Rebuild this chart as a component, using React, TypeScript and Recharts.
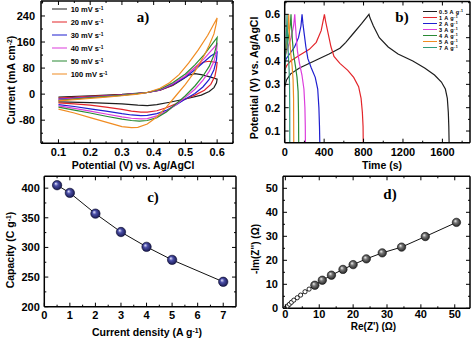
import React from "react";
import { LineChart, Line, XAxis, YAxis, ScatterChart, Scatter } from "recharts";

const SANS = '"Liberation Sans", Arial, sans-serif';
const SERIF = '"Liberation Serif", "DejaVu Serif", serif';

// a) cyclic voltammograms: [potential V, current mA cm-2]
const cvRates = ["10", "20", "30", "40", "50", "100"];
const cv10: [number, number][] = [
  [0.1, -9], [0.2, -5], [0.3, -1], [0.38, 5], [0.42, 12], [0.46, 27], [0.49, 45], [0.51, 58], [0.53, 63],
  [0.55, 60], [0.58, 52], [0.6, 46], [0.598, 35], [0.59, 20], [0.575, 8], [0.55, -3], [0.5, -15],
  [0.45, -25], [0.41, -32], [0.38, -35], [0.35, -34], [0.3, -30], [0.2, -26], [0.1, -24],
];
const cv20: [number, number][] = [
  [0.1, -12], [0.2, -7], [0.3, -2], [0.38, 5], [0.42, 12], [0.46, 28], [0.5, 55], [0.53, 82], [0.555, 98],
  [0.575, 101], [0.6, 97], [0.598, 80], [0.593, 55], [0.58, 30], [0.56, 12], [0.53, -3], [0.5, -15],
  [0.47, -30], [0.44, -42], [0.41, -51], [0.38, -55], [0.36, -55], [0.33, -52], [0.3, -47], [0.25, -40],
  [0.2, -34], [0.15, -30], [0.1, -27],
];
const cv30: [number, number][] = [
  [0.1, -15], [0.2, -9], [0.3, -3], [0.38, 5], [0.42, 13], [0.46, 30], [0.5, 52], [0.53, 75], [0.56, 100],
  [0.58, 117], [0.6, 129], [0.598, 105], [0.59, 75], [0.575, 45], [0.555, 22], [0.53, 2], [0.5, -15],
  [0.47, -33], [0.44, -50], [0.41, -60], [0.38, -65], [0.36, -66], [0.33, -64], [0.3, -60], [0.25, -52],
  [0.2, -45], [0.15, -38], [0.1, -32],
];
const cv40: [number, number][] = [
  [0.1, -17], [0.2, -10], [0.3, -3], [0.38, 5], [0.42, 14], [0.46, 32], [0.5, 56], [0.53, 82], [0.56, 110],
  [0.58, 132], [0.6, 154], [0.598, 130], [0.59, 100], [0.575, 70], [0.555, 42], [0.53, 15], [0.5, -10],
  [0.47, -33], [0.44, -53], [0.41, -67], [0.38, -75], [0.36, -76], [0.33, -74], [0.3, -70], [0.25, -61],
  [0.2, -52], [0.15, -44], [0.1, -36],
];
const cv50: [number, number][] = [
  [0.1, -19], [0.2, -11], [0.3, -4], [0.38, 5], [0.42, 15], [0.46, 35], [0.5, 62], [0.53, 90], [0.56, 122],
  [0.58, 148], [0.6, 174], [0.598, 150], [0.59, 120], [0.575, 85], [0.555, 55], [0.53, 25], [0.5, -5],
  [0.47, -30], [0.44, -55], [0.41, -72], [0.38, -81], [0.355, -83], [0.33, -81], [0.3, -77], [0.25, -68],
  [0.2, -58], [0.15, -49], [0.1, -40],
];
const cv100: [number, number][] = [
  [0.1, -21], [0.15, -17], [0.2, -13], [0.25, -9], [0.3, -5], [0.35, 0], [0.38, 5], [0.42, 18], [0.45, 35],
  [0.48, 60], [0.51, 95], [0.54, 135], [0.57, 180], [0.6, 234], [0.597, 215], [0.59, 185], [0.575, 150],
  [0.56, 120], [0.53, 70], [0.5, 30], [0.47, -5], [0.44, -40], [0.41, -70], [0.38, -92], [0.35, -102],
  [0.33, -103], [0.3, -100], [0.25, -86], [0.2, -72], [0.15, -58], [0.1, -46],
];
const cvSeries = [cv10, cv20, cv30, cv40, cv50, cv100];
const cvColors = ["#1e1e1e", "#e3262b", "#1f1fd0", "#dc3ddc", "#2a8a34", "#f08c22"];

// b) charge-discharge: [time s, potential V]
const gcdRates = ["0.5", "1", "2", "3", "4", "5", "7"];
const gcd05: [number, number][] = [
  [0, 0.29], [20, 0.32], [60, 0.345], [150, 0.37], [300, 0.4], [450, 0.43], [560, 0.455], [620, 0.48],
  [700, 0.52], [780, 0.56], [855, 0.6], [865, 0.585], [900, 0.55], [960, 0.5], [1050, 0.46], [1150, 0.43],
  [1300, 0.4], [1420, 0.37], [1520, 0.34], [1590, 0.31], [1630, 0.28], [1650, 0.24], [1660, 0.18],
  [1665, 0.12], [1668, 0.05],
];
const gcd1: [number, number][] = [
  [0, 0.36], [20, 0.38], [60, 0.4], [150, 0.425], [250, 0.45], [320, 0.48], [370, 0.53], [403, 0.6],
  [415, 0.57], [440, 0.52], [470, 0.46], [500, 0.42], [560, 0.39], [640, 0.36], [700, 0.33], [750, 0.29],
  [775, 0.24], [788, 0.18], [795, 0.12], [797, 0.05],
];
const gcd2: [number, number][] = [
  [0, 0.39], [15, 0.41], [50, 0.43], [100, 0.46], [140, 0.5], [165, 0.55], [176, 0.6], [185, 0.56],
  [200, 0.51], [215, 0.46], [235, 0.41], [270, 0.37], [310, 0.33], [335, 0.28], [347, 0.2], [353, 0.12],
  [356, 0.05],
];
const gcd3: [number, number][] = [
  [0, 0.41], [10, 0.43], [35, 0.46], [65, 0.5], [90, 0.55], [102, 0.6], [108, 0.56], [118, 0.5],
  [130, 0.44], [150, 0.39], [175, 0.34], [195, 0.28], [205, 0.2], [209, 0.12], [210, 0.05],
];
const gcd4: [number, number][] = [
  [0, 0.4], [8, 0.43], [25, 0.47], [45, 0.52], [58, 0.56], [64, 0.6], [68, 0.56], [78, 0.49], [90, 0.43],
  [108, 0.38], [125, 0.33], [136, 0.27], [140, 0.18], [142, 0.05],
];
const gcd5: [number, number][] = [
  [0, 0.38], [6, 0.42], [18, 0.47], [30, 0.52], [38, 0.56], [41, 0.6], [44, 0.56], [52, 0.49], [62, 0.43],
  [75, 0.38], [85, 0.32], [90, 0.24], [92, 0.05],
];
const gcd7: [number, number][] = [
  [0, 0.3], [3, 0.36], [8, 0.42], [14, 0.48], [20, 0.54], [24, 0.6], [26, 0.55], [31, 0.48], [38, 0.42],
  [45, 0.36], [49, 0.3], [51, 0.2], [51.5, 0.05],
];
const gcdSeries = [gcd05, gcd1, gcd2, gcd3, gcd4, gcd5, gcd7];
const gcdColors = ["#1e1e1e", "#e3262b", "#1f1fd0", "#dc3ddc", "#2a8a34", "#f08c22", "#2f9a78"];

// c) capacity vs current density
const capDensity = [0.5, 1, 2, 3, 4, 5, 7];
const capValue = [405, 392, 357, 326, 301, 279, 242];

// d) Nyquist plot
const zReSmall = [0.3, 0.7, 1.2, 1.8, 2.5, 3.5, 4.5, 5.8, 7];
const zImSmall = [0.3, 1.0, 1.7, 2.5, 3.4, 4.4, 5.5, 6.9, 8];
const zReLarge = [8.7, 10.9, 13.6, 17, 20, 23.9, 28.6, 34.3, 41.3, 50.5];
const zImLarge = [9.6, 11.7, 13.8, 16.2, 18.2, 20.6, 23.1, 25.5, 29.9, 35.8];

// tick values
const aXMajor = [0.1, 0.2, 0.3, 0.4, 0.5, 0.6];
const aXMinor = [0.05, 0.15, 0.25, 0.35, 0.45, 0.55, 0.65];
const aYMajor = [-80, 0, 80, 160, 240];
const aYMinor = [-120, -40, 40, 120, 200, 280];
const bXMajor = [0, 400, 800, 1200, 1600];
const bXMinor = [200, 600, 1000, 1400, 1800];
const bYMajor = [0.1, 0.2, 0.3, 0.4, 0.5, 0.6];
const bYMinor = [0.15, 0.25, 0.35, 0.45, 0.55, 0.65];
const cXMajor = [0, 1, 2, 3, 4, 5, 6, 7];
const cXMinor = [0.5, 1.5, 2.5, 3.5, 4.5, 5.5, 6.5];
const cYMajor = [200, 250, 300, 350, 400];
const cYMinor = [225, 275, 325, 375];
const dXMajor = [0, 10, 20, 30, 40, 50];
const dXMinor = [5, 15, 25, 35, 45];
const dYMajor = [0, 10, 20, 30, 40, 50];
const dYMinor = [5, 15, 25, 35, 45];

const toXY = (pts: [number, number][]) => pts.map(([x, y]) => ({ x, y }));
const zip = (xs: number[], ys: number[]) => xs.map((x, i) => ({ x, y: ys[i] }));

type Side = "bottom" | "left" | "top" | "right";

function frameTick(side: Side, majors: number[], fmt?: (v: number) => string, gap = 9) {
  return (props: any) => {
    const { x, y, payload } = props;
    const v = payload.value;
    const major = majors.some((m) => Math.abs(m - v) < 1e-6);
    const len = major ? 4 : 2;
    let l = { x1: x, y1: y, x2: x, y2: y - len };
    if (side === "top") l = { x1: x, y1: y, x2: x, y2: y + len };
    if (side === "left") l = { x1: x, y1: y, x2: x + len, y2: y };
    if (side === "right") l = { x1: x, y1: y, x2: x - len, y2: y };
    return (
      <g>
        <line {...l} stroke="#000" strokeWidth={1} />
        {major && fmt && side === "bottom" && (
          <text x={x} y={y + gap} textAnchor="middle" dominantBaseline="central"
            fontFamily={SANS} fontWeight="bold" fontSize={11} fill="#000">{fmt(v)}</text>
        )}
        {major && fmt && side === "left" && (
          <text x={x - gap} y={y} textAnchor="end" dominantBaseline="central"
            fontFamily={SANS} fontWeight="bold" fontSize={11} fill="#000">{fmt(v)}</text>
        )}
      </g>
    );
  };
}

const axisLine = { stroke: "#000", strokeWidth: 1.5 };

// the axes need a size above 0 to be drawn, so each one takes 1px out of the margin
function FrameAxes({ xd, yd, xMaj, xMin, yMaj, yMin, fx, fy, xGap = 9, yGap = 5 }: any) {
  const xt = [...xMaj, ...xMin].sort((a, b) => a - b);
  const yt = [...yMaj, ...yMin].sort((a, b) => a - b);
  const common = { tickSize: 0, tickMargin: 0, interval: 0 as const, tickLine: false, axisLine, allowDataOverflow: true };
  return [
    <XAxis key="xb" type="number" dataKey="x" domain={xd} ticks={xt} height={1}
      tick={frameTick("bottom", xMaj, fx, xGap)} {...common} />,
    <XAxis key="xt" xAxisId="top" orientation="top" type="number" dataKey="x" domain={xd} ticks={xt} height={1}
      tick={frameTick("top", xMaj)} {...common} />,
    <YAxis key="yl" type="number" dataKey="y" domain={yd} ticks={yt} width={1}
      tick={frameTick("left", yMaj, fy, yGap)} {...common} />,
    <YAxis key="yr" yAxisId="right" orientation="right" type="number" dataKey="y" domain={yd} ticks={yt} width={1}
      tick={frameTick("right", yMaj)} {...common} />,
  ];
}

const Sup = ({ children }: { children: React.ReactNode }) => (
  <span style={{ fontSize: "0.65em", position: "relative", top: "-0.45em" }}>{children}</span>
);

function Title({ x, y, rotate, size = 10.5, children }: any) {
  return (
    <div style={{
      position: "absolute", left: x, top: y, whiteSpace: "nowrap", fontFamily: SANS, fontWeight: "bold",
      fontSize: size, lineHeight: 1, color: "#000",
      transform: `translate(-50%, -50%)${rotate ? " rotate(-90deg)" : ""}`,
    }}>{children}</div>
  );
}

function PanelTag({ x, y, children }: any) {
  return (
    <div style={{
      position: "absolute", left: x, top: y, transform: "translate(-50%, -50%)", fontFamily: SERIF,
      fontWeight: "bold", fontSize: 15, lineHeight: 1, color: "#000",
    }}>{children}</div>
  );
}

function Sphere({ cx, cy, r, grad, stroke }: any) {
  if (cx == null || cy == null) return <g />;
  return <circle cx={cx} cy={cy} r={r} fill={`url(#${grad})`} stroke={stroke} strokeWidth={0.6} />;
}

export default function App() {
  const box = (left: number, top: number): React.CSSProperties => ({ position: "absolute", left, top });
  return (
    <div style={{ position: "absolute", left: 0, top: 0, width: 474, height: 338, background: "#fff", overflow: "hidden" }}>
      {/* a) CV */}
      <div style={box(0, 0)}>
        <LineChart width={237} height={169} margin={{ top: 0, left: 40, right: 3, bottom: 24.7 }}>
          {FrameAxes({ xd: [0.045, 0.65], yd: [-151, 286], xMaj: aXMajor, xMin: aXMinor, yMaj: aYMajor, yMin: aYMinor,
            fx: (v: number) => v.toFixed(1), fy: (v: number) => String(v), xGap: 8.8, yGap: 6 })}
          {cvSeries.map((s, i) => (
            <Line key={cvRates[i]} data={toXY(s)} dataKey="y" type="linear" stroke={cvColors[i]} strokeWidth={1.2}
              dot={false} activeDot={false} isAnimationActive={false} />
          ))}
        </LineChart>
      </div>

      {/* b) GCD */}
      <div style={box(237, 0)}>
        <LineChart width={237} height={169} margin={{ top: 0.5, left: 46.7, right: 3, bottom: 25.3 }}>
          {FrameAxes({ xd: [0, 1880], yd: [0.05, 0.655], xMaj: bXMajor, xMin: bXMinor, yMaj: bYMajor, yMin: bYMinor,
            fx: (v: number) => String(v), fy: (v: number) => v.toFixed(1), xGap: 9, yGap: 4.5 })}
          {gcdSeries.map((s, i) => (
            <Line key={gcdRates[i]} data={toXY(s)} dataKey="y" type="linear" stroke={gcdColors[i]} strokeWidth={1.2}
              dot={false} activeDot={false} isAnimationActive={false} />
          ))}
        </LineChart>
      </div>

      {/* c) capacity */}
      <div style={box(0, 169)}>
        <ScatterChart width={237} height={169} margin={{ top: 6.3, left: 43.3, right: 0, bottom: 30.3 }}>
          <defs>
            <radialGradient id="sphC" cx="50%" cy="50%" fx="35%" fy="32%" r="60%">
              <stop offset="0%" stopColor="#e8e8ff" />
              <stop offset="35%" stopColor="#4b4fa8" />
              <stop offset="100%" stopColor="#0c0c3c" />
            </radialGradient>
          </defs>
          {FrameAxes({ xd: [0, 7.5], yd: [200, 420], xMaj: cXMajor, xMin: cXMinor, yMaj: cYMajor, yMin: cYMinor,
            fx: (v: number) => String(v), fy: (v: number) => String(v), xGap: 8, yGap: 4.5 })}
          <Scatter data={zip(capDensity, capValue)} line={{ stroke: "#111", strokeWidth: 1 }} lineType="joint"
            shape={(p: any) => <Sphere {...p} r={4.7} grad="sphC" stroke="#0a0a30" />} isAnimationActive={false} />
        </ScatterChart>
      </div>

      {/* d) Nyquist */}
      <div style={box(237, 169)}>
        <ScatterChart width={237} height={169} margin={{ top: 6.3, left: 45, right: 3, bottom: 28.7 }}>
          <defs>
            <radialGradient id="sphD" cx="50%" cy="50%" fx="35%" fy="32%" r="60%">
              <stop offset="0%" stopColor="#f4f4f4" />
              <stop offset="35%" stopColor="#777" />
              <stop offset="100%" stopColor="#111" />
            </radialGradient>
          </defs>
          {FrameAxes({ xd: [-0.7, 54.5], yd: [0, 55], xMaj: dXMajor, xMin: dXMinor, yMaj: dYMajor, yMin: dYMinor,
            fx: (v: number) => String(v), fy: (v: number) => String(v), xGap: 6, yGap: 5 })}
          <Scatter data={[...zip(zReSmall, zImSmall), ...zip(zReLarge, zImLarge)]} line={{ stroke: "#111", strokeWidth: 1 }}
            lineType="joint" shape={() => <g />} isAnimationActive={false} />
          <Scatter data={zip(zReSmall, zImSmall)} isAnimationActive={false}
            shape={(p: any) => (p.cx == null ? <g /> : <circle cx={p.cx} cy={p.cy} r={2.1} fill="#fff" stroke="#111" strokeWidth={0.9} />)} />
          <Scatter data={zip(zReLarge, zImLarge)} isAnimationActive={false}
            shape={(p: any) => <Sphere {...p} r={4.2} grad="sphD" stroke="#111" />} />
        </ScatterChart>
      </div>

      {/* legends */}
      <div style={{ position: "absolute", left: 51.7, top: 9.3 }}>
        {cvRates.map((r, i) => (
          <div key={r} style={{ position: "absolute", left: 0, top: i * 12.9, display: "flex", alignItems: "center",
            transform: "translateY(-50%)", whiteSpace: "nowrap", fontFamily: SANS, fontWeight: "bold", fontSize: 7.5 }}>
            <span style={{ display: "inline-block", width: 15, height: 1.3, background: cvColors[i], marginRight: 4 }} />
            <span>{r} mV s<Sup>-1</Sup></span>
          </div>
        ))}
      </div>
      <div style={{ position: "absolute", left: 423, top: 11.7 }}>
        {gcdRates.map((r, i) => (
          <div key={r} style={{ position: "absolute", left: 0, top: i * 6, display: "flex", alignItems: "center",
            transform: "translateY(-50%)", whiteSpace: "nowrap", fontFamily: SANS, fontWeight: "bold", fontSize: 5.5,
            letterSpacing: 0.4 }}>
            <span style={{ display: "inline-block", width: 14, height: 1.1, background: gcdColors[i], marginRight: 2 }} />
            <span>{r} A g<Sup>-1</Sup></span>
          </div>
        ))}
      </div>

      {/* panel tags */}
      <PanelTag x={143} y={17}>a)</PanelTag>
      <PanelTag x={402} y={17}>b)</PanelTag>
      <PanelTag x={153} y={197}>c)</PanelTag>
      <PanelTag x={390} y={194}>d)</PanelTag>

      {/* axis titles */}
      <Title x={11} y={80} rotate>Current (mA cm<Sup>-2</Sup>)</Title>
      <Title x={133} y={164.5}>Potential (V) vs. Ag/AgCl</Title>
      <Title x={254} y={78} rotate>Potential (V) vs. Ag/AgCl</Title>
      <Title x={382} y={164.5}>Time (s)</Title>
      <Title x={10} y={250} rotate>Capacity (C g<Sup>-1</Sup>)</Title>
      <Title x={147} y={332}>Current density (A g<Sup>-1</Sup>)</Title>
      <Title x={255.5} y={249} rotate size={10}>-Im(Z'') (Ω)</Title>
      <Title x={373.5} y={327} size={10}>Re(Z') (Ω)</Title>
    </div>
  );
}
